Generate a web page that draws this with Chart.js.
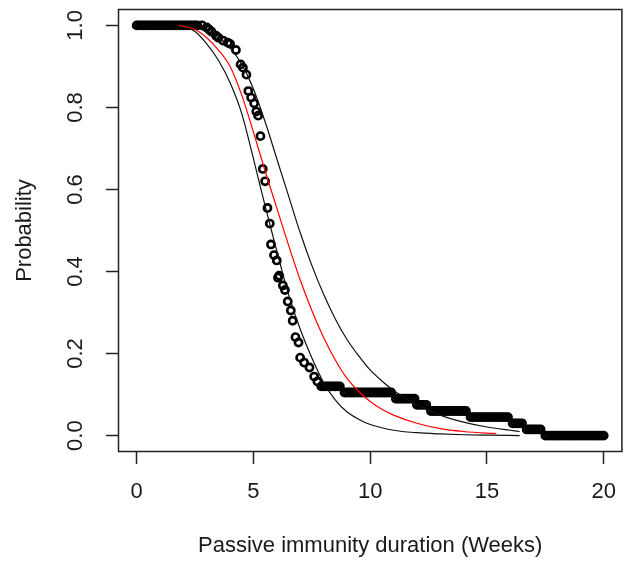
<!DOCTYPE html>
<html>
<head>
<meta charset="utf-8">
<style>
  body { margin: 0; background: #fff; }
  canvas { display: block; }
</style>
</head>
<body>
<canvas id="myChart" width="629" height="561"></canvas>
<script src="https://cdn.jsdelivr.net/npm/chart.js"></script>
<script>
    // observed survival (circles): flat runs of many points, then the scattered drop
    const runProb = [1.0, 0.12, 0.105, 0.09, 0.075, 0.06, 0.045, 0.03, 0.015, 0.0];
    const runTime = [
        [0, 0.1, 0.2, 0.3, 0.4, 0.5, 0.6, 0.7, 0.8, 0.9, 1.0, 1.1, 1.2, 1.3, 1.4, 1.5, 1.6, 1.7, 1.8, 1.9, 2.0, 2.1, 2.2, 2.3, 2.4, 2.5, 2.6],
        [7.9, 8.0, 8.1, 8.2, 8.3, 8.4, 8.5, 8.6, 8.7],
        [8.9, 9.0, 9.1, 9.2, 9.3, 9.4, 9.5, 9.6, 9.7, 9.8, 9.9, 10.0, 10.1, 10.2, 10.3, 10.4, 10.5, 10.6, 10.7, 10.8, 10.9],
        [11.1, 11.2, 11.3, 11.4, 11.5, 11.6, 11.7, 11.8, 11.9],
        [12.0, 12.1, 12.2, 12.3, 12.4],
        [12.6, 12.7, 12.8, 12.9, 13.0, 13.1, 13.2, 13.3, 13.4, 13.5, 13.6, 13.7, 13.8, 13.9, 14.0, 14.1],
        [14.3, 14.4, 14.5, 14.6, 14.7, 14.8, 14.9, 15.0, 15.1, 15.2, 15.3, 15.4, 15.5, 15.6, 15.7, 15.8, 15.9],
        [16.1, 16.2, 16.3, 16.4, 16.5],
        [16.7, 16.8, 16.9, 17.0, 17.1, 17.2, 17.3],
        [17.5, 17.6, 17.7, 17.8, 17.9, 18.0, 18.1, 18.2, 18.3, 18.4, 18.5, 18.6, 18.7, 18.8, 18.9, 19.0, 19.1, 19.2, 19.3, 19.4, 19.5, 19.6, 19.7, 19.8, 19.9, 20.0]
    ];
    const dropTime = [2.8, 3.0, 3.1, 3.2, 3.4, 3.5, 3.7, 3.9, 4.0, 4.25, 4.45, 4.55, 4.7, 4.78, 4.9, 5.03, 5.12, 5.2, 5.3, 5.4, 5.5, 5.6, 5.7, 5.75, 5.88, 6.0, 6.05, 6.1, 6.26, 6.35, 6.47, 6.6, 6.68, 6.8, 6.93, 7.0, 7.17, 7.4, 7.6, 7.74];
    const dropProb = [1.0, 0.995, 0.99, 0.985, 0.975, 0.97, 0.963, 0.958, 0.955, 0.94, 0.905, 0.897, 0.88, 0.84, 0.824, 0.81, 0.79, 0.78, 0.73, 0.65, 0.62, 0.555, 0.517, 0.466, 0.44, 0.427, 0.385, 0.39, 0.366, 0.355, 0.327, 0.305, 0.28, 0.24, 0.227, 0.19, 0.178, 0.166, 0.144, 0.132];

    // fitted curve (red) and its two bounds (black)
    const fitTime = [1.8, 2.5, 3.0, 3.5, 4.0, 4.5, 5.0, 5.5, 6.0, 6.5, 7.0, 7.5, 8.0, 8.5, 9.0, 9.5, 10.0, 10.5, 11.0, 12.0, 13.0, 14.0, 15.0, 15.4];
    const fitProb = [1.0, 0.99, 0.97, 0.94, 0.9, 0.83, 0.74, 0.645, 0.555, 0.465, 0.38, 0.305, 0.24, 0.185, 0.14, 0.108, 0.083, 0.064, 0.05, 0.03, 0.017, 0.01, 0.006, 0.005];
    const lowerTime = [2.0, 2.5, 3.0, 3.5, 4.0, 4.5, 5.0, 5.5, 6.0, 6.5, 7.0, 7.5, 8.0, 8.5, 9.0, 9.5, 10.0, 11.0, 12.0, 13.0, 14.0, 15.0, 16.4];
    const lowerProb = [1.0, 0.985, 0.955, 0.915, 0.86, 0.785, 0.675, 0.56, 0.45, 0.345, 0.26, 0.19, 0.13, 0.087, 0.058, 0.04, 0.027, 0.013, 0.007, 0.004, 0.002, 0.001, 0.0];
    const upperTime = [2.1, 2.5, 3.0, 3.5, 4.0, 4.5, 5.0, 5.5, 6.0, 6.5, 7.0, 7.5, 8.0, 8.5, 9.0, 9.5, 10.0, 10.5, 11.0, 12.0, 13.0, 14.0, 15.0, 16.0, 16.4];
    const upperProb = [1.0, 0.995, 0.985, 0.97, 0.945, 0.905, 0.845, 0.765, 0.675, 0.585, 0.495, 0.415, 0.345, 0.285, 0.235, 0.195, 0.16, 0.133, 0.11, 0.075, 0.05, 0.033, 0.021, 0.013, 0.01];

    const xTicks = [0, 5, 10, 15, 20];
    const yTicks = [0, 0.2, 0.4, 0.6, 0.8, 1.0];

    const FONT = "'Liberation Sans', Arial, sans-serif";
    const INK = '#1a1a1a';

    const points = [];
    runTime.forEach((ts, i) => ts.forEach(t => points.push({ x: t, y: runProb[i] })));
    dropTime.forEach((t, i) => points.push({ x: t, y: dropProb[i] }));

    function curve(ts, ps) {
        return ts.map((t, i) => ({ x: t, y: ps[i] }));
    }

    const boxPlugin = {
        id: 'box',
        afterDraw(chart) {
            const a = chart.chartArea;
            const c = chart.ctx;
            c.save();
            c.strokeStyle = '#222';
            c.lineWidth = 1.5;
            c.strokeRect(a.left + 0.5, a.top + 0.5, a.right - a.left - 1, a.bottom - a.top - 1);
            c.restore();
        }
    };

    const ctx = document.getElementById('myChart').getContext('2d');
    const myChart = new Chart(ctx, {
        type: 'scatter',
        data: {
            datasets: [
                {
                    data: curve(fitTime, fitProb),
                    showLine: true, pointRadius: 0, borderColor: '#ff0000', borderWidth: 1.2,
                    cubicInterpolationMode: 'monotone', order: 1
                },
                {
                    data: curve(lowerTime, lowerProb),
                    showLine: true, pointRadius: 0, borderColor: '#111', borderWidth: 1.2,
                    cubicInterpolationMode: 'monotone', order: 1
                },
                {
                    data: curve(upperTime, upperProb),
                    showLine: true, pointRadius: 0, borderColor: '#111', borderWidth: 1.2,
                    cubicInterpolationMode: 'monotone', order: 1
                },
                {
                    data: points,
                    showLine: false, pointStyle: 'circle', pointRadius: 3.6, borderWidth: 2.6,
                    borderColor: '#000', backgroundColor: 'rgba(0,0,0,0)', order: 2
                }
            ]
        },
        options: {
            responsive: false,
            animation: false,
            layout: { padding: { top: 9, right: 1, left: 0, bottom: 0 } },
            plugins: { legend: { display: false }, tooltip: { enabled: false } },
            scales: {
                x: {
                    type: 'linear', min: -0.8, max: 20.8,
                    afterBuildTicks: s => { s.ticks = xTicks.map(v => ({ value: v })); },
                    afterFit: s => { s.height = 109; s.paddingLeft = 0; s.paddingRight = 0; },
                    grid: { drawOnChartArea: false, drawTicks: true, tickLength: 12, tickColor: '#222', tickWidth: 1.5 },
                    border: { display: false },
                    ticks: { padding: 15, color: INK, font: { family: FONT, size: 22 }, maxRotation: 0, callback: v => String(v) },
                    title: { display: true, text: 'Passive immunity duration (Weeks)', color: INK,
                             font: { family: FONT, size: 22 }, padding: { top: 0, bottom: 2 } }
                },
                y: {
                    type: 'linear', min: -0.04, max: 1.04,
                    afterBuildTicks: s => { s.ticks = yTicks.map(v => ({ value: v })); },
                    afterFit: s => { s.width = 118; s.paddingTop = 0; s.paddingBottom = 0; },
                    grid: { drawOnChartArea: false, drawTicks: true, tickLength: 12, tickColor: '#222', tickWidth: 1.5 },
                    border: { display: false },
                    ticks: { padding: 15, color: INK, font: { family: FONT, size: 22 }, minRotation: 90, maxRotation: 90,
                             crossAlign: 'center', callback: v => v.toFixed(1) },
                    title: { display: true, text: 'Probability', color: INK,
                             font: { family: FONT, size: 22 }, padding: { top: 12, bottom: 0 } }
                }
            }
        },
        plugins: [boxPlugin]
    });
</script>
</body>
</html>
